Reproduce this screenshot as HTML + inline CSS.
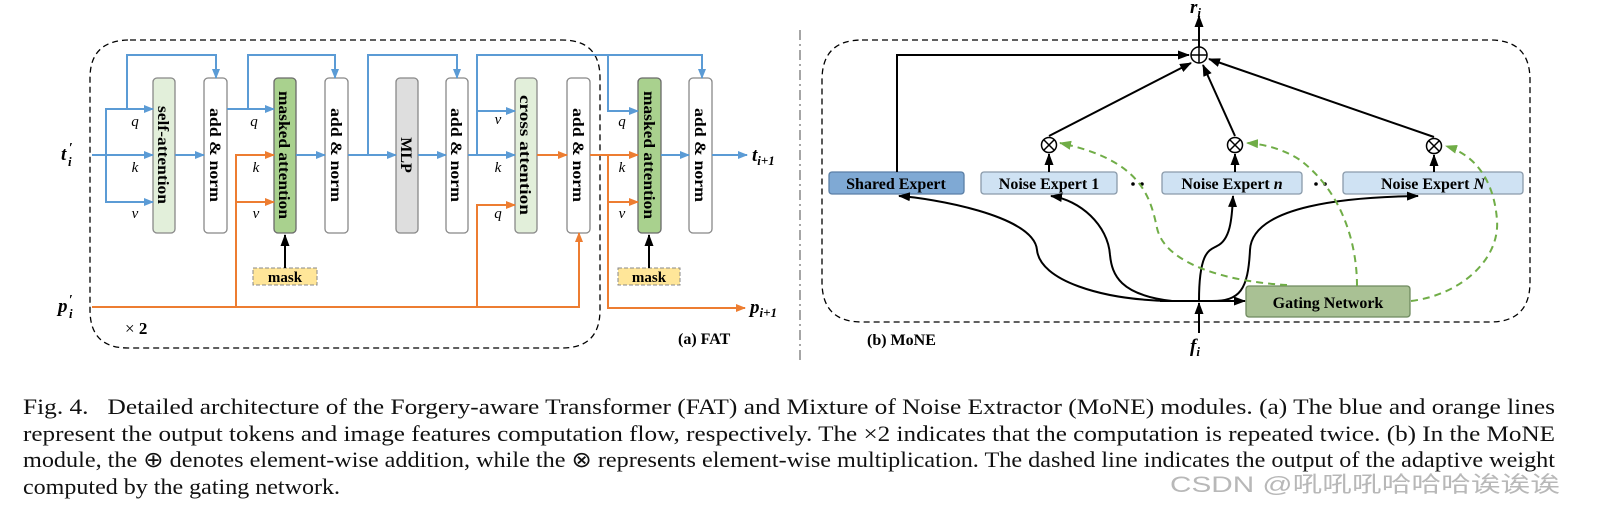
<!DOCTYPE html>
<html><head><meta charset="utf-8"><style>
html,body{margin:0;padding:0;background:#fff;}
body{width:1609px;height:523px;overflow:hidden;position:relative;}
</style></head><body>
<svg width="1609" height="523" xmlns="http://www.w3.org/2000/svg" style="position:absolute;left:0;top:0">
<defs>
<marker id="ab" markerUnits="userSpaceOnUse" markerWidth="10" markerHeight="10" refX="9" refY="5" orient="auto"><path d="M0,1 L10,5 L0,9 Z" fill="#5b9bd5"/></marker>
<marker id="ao" markerUnits="userSpaceOnUse" markerWidth="10" markerHeight="10" refX="9" refY="5" orient="auto"><path d="M0,1 L10,5 L0,9 Z" fill="#ed7d31"/></marker>
<marker id="ak" markerUnits="userSpaceOnUse" markerWidth="12" markerHeight="10" refX="11" refY="5" orient="auto"><path d="M0,0.5 L12,5 L0,9.5 Z" fill="#000"/></marker>
<marker id="ag" markerUnits="userSpaceOnUse" markerWidth="12" markerHeight="10" refX="11" refY="5" orient="auto"><path d="M0,0.5 L12,5 L0,9.5 Z" fill="#70ad47"/></marker>
</defs>
<g font-family="Liberation Serif, serif">
<path d="M130,40 H562 Q600,40 600,78 V310 Q600,348 562,348 H128 Q90,348 90,310 V78 Q90,40 130,40 Z" fill="none" stroke="#000" stroke-width="1.3" stroke-dasharray="6,4"/>
<g stroke="#888" stroke-width="1.3">
<rect x="153" y="78" width="22" height="155" rx="4" fill="#e2efda"/>
<rect x="204" y="78" width="23" height="155" rx="4" fill="#fff"/>
<rect x="274" y="78" width="22" height="155" rx="4" fill="#a9d18e" stroke="#6a6a6a"/>
<rect x="325" y="78" width="23" height="155" rx="4" fill="#fff"/>
<rect x="396" y="78" width="22" height="155" rx="4" fill="#dedede"/>
<rect x="446" y="78" width="22" height="155" rx="4" fill="#fff"/>
<rect x="515" y="78" width="22" height="155" rx="4" fill="#e2efda"/>
<rect x="567" y="78" width="23" height="155" rx="4" fill="#fff"/>
<rect x="638" y="78" width="23" height="155" rx="4" fill="#a9d18e" stroke="#6a6a6a"/>
<rect x="689" y="78" width="23" height="155" rx="4" fill="#fff"/>
</g>
<g font-weight="bold" font-size="16" fill="#000" text-anchor="middle">
<text transform="translate(158,155) rotate(90)" textLength="98" lengthAdjust="spacingAndGlyphs">self-attention</text>
<text transform="translate(210,155) rotate(90)" textLength="94" lengthAdjust="spacingAndGlyphs">add &amp; norm</text>
<text transform="translate(279,155) rotate(90)" textLength="128" lengthAdjust="spacingAndGlyphs">masked attention</text>
<text transform="translate(331,155) rotate(90)" textLength="94" lengthAdjust="spacingAndGlyphs">add &amp; norm</text>
<text transform="translate(401,155) rotate(90)">MLP</text>
<text transform="translate(451,155) rotate(90)" textLength="94" lengthAdjust="spacingAndGlyphs">add &amp; norm</text>
<text transform="translate(520,155) rotate(90)" textLength="120" lengthAdjust="spacingAndGlyphs">cross attention</text>
<text transform="translate(573,155) rotate(90)" textLength="94" lengthAdjust="spacingAndGlyphs">add &amp; norm</text>
<text transform="translate(644,155) rotate(90)" textLength="128" lengthAdjust="spacingAndGlyphs">masked attention</text>
<text transform="translate(695,155) rotate(90)" textLength="94" lengthAdjust="spacingAndGlyphs">add &amp; norm</text>
</g>
<rect x="253" y="268" width="64" height="17" fill="#ffe699" stroke="#888" stroke-dasharray="4,2"/>
<text x="285" y="282" font-size="15" font-weight="bold" text-anchor="middle">mask</text>
<rect x="618" y="268" width="62" height="17" fill="#ffe699" stroke="#888" stroke-dasharray="4,2"/>
<text x="649" y="282" font-size="15" font-weight="bold" text-anchor="middle">mask</text>
<g stroke="#000" stroke-width="2" fill="none">
<line x1="285" y1="268" x2="285" y2="235" marker-end="url(#ak)"/>
<line x1="649" y1="268" x2="649" y2="235" marker-end="url(#ak)"/>
</g>
<g stroke="#5b9bd5" stroke-width="2" fill="none">
<line x1="92" y1="155" x2="153" y2="155" marker-end="url(#ab)"/>
<polyline points="106,155 106,109 153,109" marker-end="url(#ab)"/>
<polyline points="106,155 106,202 153,202" marker-end="url(#ab)"/>
<polyline points="127,109 127,55 216,55 216,78" marker-end="url(#ab)"/>
<line x1="175" y1="155" x2="204" y2="155" marker-end="url(#ab)"/>
<line x1="227" y1="109" x2="274" y2="109" marker-end="url(#ab)"/>
<polyline points="248,109 248,55 335,55 335,78" marker-end="url(#ab)"/>
<line x1="296" y1="155" x2="325" y2="155" marker-end="url(#ab)"/>
<line x1="348" y1="155" x2="396" y2="155" marker-end="url(#ab)"/>
<polyline points="368,155 368,55 457,55 457,78" marker-end="url(#ab)"/>
<line x1="418" y1="155" x2="446" y2="155" marker-end="url(#ab)"/>
<line x1="468" y1="155" x2="515" y2="155" marker-end="url(#ab)"/>
<polyline points="477,155 477,111 515,111" marker-end="url(#ab)"/>
<polyline points="477,111 477,55 702,55 702,78" marker-end="url(#ab)"/>
<polyline points="608,55 608,111 638,111" marker-end="url(#ab)"/>
<line x1="661" y1="155" x2="689" y2="155" marker-end="url(#ab)"/>
<line x1="712" y1="155" x2="747" y2="155" marker-end="url(#ab)"/>
</g>
<g stroke="#ed7d31" stroke-width="2" fill="none">
<polyline points="92,307 579,307 579,233" marker-end="url(#ao)"/>
<polyline points="236,307 236,155 274,155" marker-end="url(#ao)"/>
<line x1="236" y1="202" x2="274" y2="202" marker-end="url(#ao)"/>
<polyline points="477,307 477,205 515,205" marker-end="url(#ao)"/>
<line x1="537" y1="155" x2="567" y2="155" marker-end="url(#ao)"/>
<line x1="590" y1="155" x2="638" y2="155" marker-end="url(#ao)"/>
<line x1="608" y1="202" x2="638" y2="202" marker-end="url(#ao)"/>
<polyline points="608,155 608,308 745,308" marker-end="url(#ao)"/>
</g>
<g font-style="italic" font-size="15" text-anchor="middle">
<text x="135" y="126">q</text><text x="135" y="172">k</text><text x="135" y="218">v</text>
<text x="254" y="126">q</text><text x="256" y="172">k</text><text x="256" y="218">v</text>
<text x="498" y="124">v</text><text x="498" y="172">k</text><text x="498" y="218">q</text>
<text x="622" y="126">q</text><text x="622" y="172">k</text><text x="622" y="218">v</text>
</g>
<g font-style="italic" font-weight="bold" font-size="19">
<text x="61" y="160">t</text><text x="69" y="152" font-size="14" font-style="normal">′</text><text x="68" y="166" font-size="13">i</text>
<text x="58" y="312">p</text><text x="69" y="304" font-size="14" font-style="normal">′</text><text x="69" y="318" font-size="13">i</text>
<text x="752" y="161">t<tspan font-size="13" dy="4">i+1</tspan></text>
<text x="750" y="313">p<tspan font-size="13" dy="4">i+1</tspan></text>
</g>
<text x="125" y="334" font-size="17">× <tspan font-weight="bold">2</tspan></text>
<text x="678" y="344" font-size="16" font-weight="bold">(a) FAT</text>
<line x1="800" y1="30" x2="800" y2="362" stroke="#888" stroke-width="1.5" stroke-dasharray="10,4,2,4"/>
<path d="M862,40 H1490 Q1530,40 1530,80 V282 Q1530,322 1490,322 H862 Q822,322 822,282 V80 Q822,40 862,40 Z" fill="none" stroke="#000" stroke-width="1.3" stroke-dasharray="6,4"/>
<rect x="829" y="172" width="135" height="22" rx="3" fill="#7fa9d4" stroke="#5b7fa6" stroke-width="1.3"/>
<rect x="981" y="172" width="136" height="22" rx="3" fill="#cfe2f3" stroke="#8a9aaa" stroke-width="1.3"/>
<rect x="1162" y="172" width="140" height="22" rx="3" fill="#cfe2f3" stroke="#8a9aaa" stroke-width="1.3"/>
<rect x="1343" y="172" width="180" height="22" rx="3" fill="#cfe2f3" stroke="#8a9aaa" stroke-width="1.3"/>
<rect x="1246" y="286" width="164" height="31" rx="3" fill="#a9c194" stroke="#6f8a5f" stroke-width="1.3"/>
<g font-weight="bold" font-size="16" text-anchor="middle">
<text x="896" y="189">Shared Expert</text>
<text x="1049" y="189">Noise Expert 1</text>
<text x="1232" y="189">Noise Expert <tspan font-style="italic">n</tspan></text>
<text x="1433" y="189">Noise Expert <tspan font-style="italic">N</tspan></text>
<text x="1328" y="308">Gating Network</text>
</g>
<g fill="#000">
<circle cx="1133" cy="184" r="1.8"/><circle cx="1142" cy="184" r="1.8"/>
<circle cx="1316" cy="184" r="1.8"/><circle cx="1325" cy="184" r="1.8"/>
</g>
<g stroke="#000" stroke-width="1.5" fill="#fff">
<circle cx="1199" cy="55" r="8"/><path d="M1191,55 H1207 M1199,47 V63" fill="none"/>
<circle cx="1049" cy="145" r="7.5"/><path d="M1044,140 L1054,150 M1054,140 L1044,150" fill="none"/>
<circle cx="1235" cy="145" r="7.5"/><path d="M1230,140 L1240,150 M1240,140 L1230,150" fill="none"/>
<circle cx="1434" cy="146" r="7.5"/><path d="M1429,141 L1439,151 M1439,141 L1429,151" fill="none"/>
</g>
<g stroke="#000" stroke-width="2" fill="none">
<line x1="1199" y1="47" x2="1199" y2="16" marker-end="url(#ak)"/>
<polyline points="897,172 897,55 1189,55" marker-end="url(#ak)"/>
<line x1="1049" y1="136" x2="1191" y2="63" marker-end="url(#ak)"/>
<line x1="1235" y1="136" x2="1203" y2="65" marker-end="url(#ak)"/>
<line x1="1434" y1="137" x2="1209" y2="59" marker-end="url(#ak)"/>
<line x1="1049" y1="172" x2="1049" y2="154" marker-end="url(#ak)"/>
<line x1="1235" y1="172" x2="1235" y2="154" marker-end="url(#ak)"/>
<line x1="1434" y1="172" x2="1434" y2="155" marker-end="url(#ak)"/>
<line x1="1199" y1="333" x2="1199" y2="303" marker-end="url(#ak)"/>
<line x1="1160" y1="301" x2="1245" y2="301" marker-end="url(#ak)"/>
<path d="M1172,301 C1100,300 1040,280 1037,250 C1034,215 930,198 899,196" marker-end="url(#ak)"/>
<path d="M1172,301 C1120,295 1112,275 1110,255 C1108,225 1080,200 1051,196" marker-end="url(#ak)"/>
<path d="M1199,301 C1199,250 1210,250 1217,246 C1230,240 1232,220 1233,196" marker-end="url(#ak)"/>
<path d="M1212,301 C1240,301 1248,290 1250,250 C1252,205 1350,197 1418,196" marker-end="url(#ak)"/>
</g>
<g stroke="#70ad47" stroke-width="2" fill="none" stroke-dasharray="7,5">
<path d="M1287,285 C1230,282 1165,265 1157,228 C1150,195 1140,160 1060,143" marker-end="url(#ag)"/>
<path d="M1357,286 C1357,240 1340,190 1300,160 C1285,150 1265,144 1247,143" marker-end="url(#ag)"/>
<path d="M1411,301 C1460,295 1500,260 1497,220 C1494,180 1475,155 1446,146" marker-end="url(#ag)"/>
</g>
<text x="1190" y="13" font-size="19" font-weight="bold" font-style="italic">r<tspan font-size="13" dy="4">i</tspan></text>
<text x="1190" y="352" font-size="19" font-weight="bold" font-style="italic">f<tspan font-size="13" dy="4">i</tspan></text>
<text x="867" y="345" font-size="16" font-weight="bold">(b) MoNE</text>
<g font-size="22" fill="#111">
<text x="23" y="414" textLength="1532" lengthAdjust="spacingAndGlyphs">Fig. 4.&#160;&#160; Detailed architecture of the Forgery-aware Transformer (FAT) and Mixture of Noise Extractor (MoNE) modules. (a) The blue and orange lines</text>
<text x="23" y="441" textLength="1532" lengthAdjust="spacingAndGlyphs">represent the output tokens and image features computation flow, respectively. The ×2 indicates that the computation is repeated twice. (b) In the MoNE</text>
<text x="23" y="467" textLength="1532" lengthAdjust="spacingAndGlyphs">module, the ⊕ denotes element-wise addition, while the ⊗ represents element-wise multiplication. The dashed line indicates the output of the adaptive weight</text>
<text x="23" y="494" textLength="317" lengthAdjust="spacingAndGlyphs">computed by the gating network.</text>
</g>
</g>
<text x="1170" y="492" font-family="Liberation Sans, Noto Sans CJK SC, sans-serif" font-size="22" fill="#b8b8b8" textLength="390" lengthAdjust="spacingAndGlyphs">CSDN @吼吼吼哈哈哈诶诶诶</text>
</svg>
</body></html>
